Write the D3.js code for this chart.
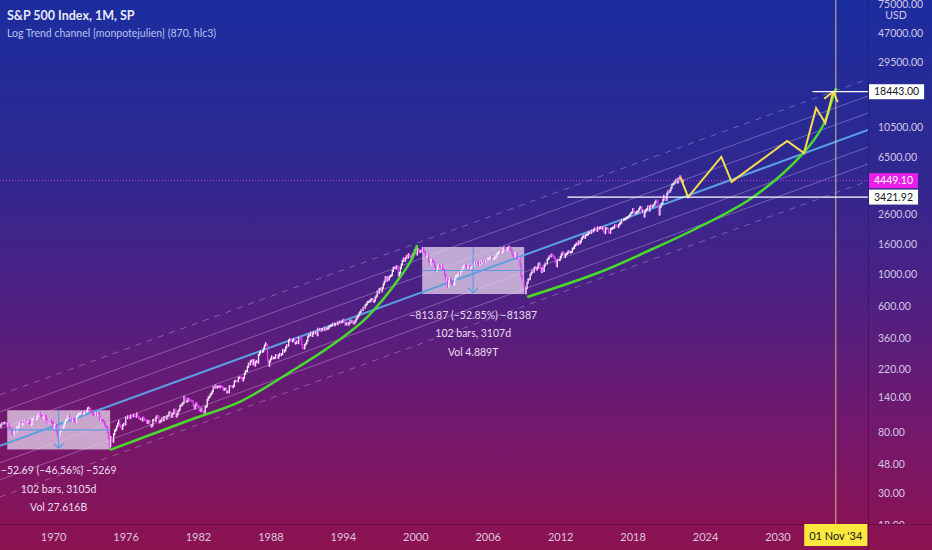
<!DOCTYPE html>
<html>
<head>
<meta charset="utf-8">
<script src="https://cdn.jsdelivr.net/npm/d3@7"></script>
<style>
body { margin: 0; background: #1a2c9e; }
svg { display: block; font-family: Lato, "Open Sans", sans-serif; }
</style>
</head>
<body>
<svg id="chart" width="932" height="550"></svg>
<script>

// monthly closes of the S&P 500, first bar = Aug 1965
var firstBar = 1965 + 7 / 12;
var spxCloses = [
  87.17, 89.96, 92.42, 91.61, 92.43,
  92.88, 91.22, 89.23, 91.06, 86.13, 84.74, 83.60, 77.10, 76.56, 80.20, 80.45, 80.33,
  86.61, 86.78, 90.20, 94.01, 89.08, 90.64, 94.75, 93.64, 96.71, 93.90, 94.00, 96.47,
  92.24, 89.36, 90.20, 97.59, 98.68, 99.58, 97.74, 98.86, 102.67, 103.41, 108.37, 103.86,
  103.01, 98.13, 101.51, 103.69, 103.46, 97.71, 91.83, 95.51, 93.12, 97.24, 93.81, 92.06,
  85.02, 89.50, 89.63, 81.52, 76.55, 72.72, 78.05, 81.52, 84.21, 83.25, 87.20, 92.15,
  95.88, 96.75, 100.31, 103.95, 99.63, 99.70, 95.58, 99.03, 98.34, 94.23, 93.99, 102.09,
  103.94, 106.57, 107.20, 107.67, 109.53, 107.14, 107.39, 111.09, 110.55, 111.58, 116.67, 118.05,
  116.03, 111.68, 111.52, 106.97, 104.95, 104.26, 108.22, 104.25, 108.43, 108.29, 95.96, 97.55,
  96.57, 96.22, 93.98, 90.31, 87.28, 86.00, 79.31, 72.15, 63.54, 73.90, 69.97, 68.56,
  76.98, 81.59, 83.36, 87.30, 91.15, 95.19, 88.75, 86.88, 83.87, 89.04, 91.24, 90.19,
  100.86, 99.71, 102.77, 101.64, 100.18, 104.28, 103.44, 102.91, 105.24, 102.90, 102.10, 107.46,
  102.03, 99.82, 98.42, 98.44, 96.12, 100.48, 98.85, 96.77, 96.53, 92.34, 94.83, 95.10,
  89.25, 87.04, 89.21, 96.83, 97.24, 95.53, 100.68, 103.29, 102.54, 93.15, 94.70, 96.11,
  99.93, 96.28, 101.59, 101.76, 99.08, 102.91, 103.81, 109.32, 109.32, 101.82, 106.16, 107.94,
  114.16, 113.66, 102.09, 106.29, 111.24, 114.24, 121.67, 122.38, 125.46, 127.47, 140.52, 135.76,
  129.55, 131.27, 136.00, 132.81, 132.59, 131.21, 130.92, 122.79, 116.18, 121.89, 126.35, 122.55,
  120.40, 113.11, 111.96, 116.44, 111.88, 109.61, 107.09, 119.51, 120.42, 133.71, 138.54, 140.64,
  145.30, 148.06, 152.96, 164.42, 162.39, 168.11, 162.56, 164.40, 166.07, 163.55, 166.40, 164.93,
  163.41, 157.06, 159.18, 160.05, 150.55, 153.18, 150.66, 166.68, 166.10, 166.09, 163.58, 167.24,
  179.63, 181.18, 180.66, 179.83, 189.55, 191.85, 190.92, 188.63, 182.08, 189.82, 202.17, 211.28,
  211.78, 226.92, 238.90, 235.52, 247.35, 250.84, 236.12, 252.93, 231.32, 243.98, 249.22, 242.17,
  274.08, 284.20, 291.70, 288.36, 290.10, 304.00, 318.66, 329.80, 321.83, 251.79, 230.30, 247.08,
  257.07, 267.82, 258.89, 261.33, 262.16, 273.50, 272.02, 261.52, 271.91, 278.97, 273.70, 277.72,
  297.47, 288.86, 294.87, 309.64, 320.52, 317.98, 346.08, 351.45, 349.15, 340.36, 345.99, 353.40,
  329.08, 331.89, 339.94, 330.80, 361.23, 358.02, 356.15, 322.56, 306.05, 304.00, 322.22, 330.22,
  343.93, 367.07, 375.22, 375.35, 389.83, 371.16, 387.81, 395.43, 387.86, 392.46, 375.22, 417.09,
  408.79, 412.70, 403.69, 414.95, 415.35, 408.14, 424.21, 414.03, 417.80, 418.68, 431.35, 435.71,
  438.78, 443.38, 451.67, 440.19, 450.19, 450.53, 448.13, 463.56, 458.93, 467.83, 461.79, 466.45,
  481.61, 467.14, 445.77, 450.91, 456.50, 444.27, 458.26, 475.49, 462.69, 472.35, 453.69, 459.27,
  470.42, 487.39, 500.71, 514.71, 533.40, 544.75, 562.06, 561.88, 584.41, 581.50, 605.37, 615.93,
  636.02, 640.43, 645.50, 654.17, 669.12, 670.63, 639.95, 651.99, 687.33, 705.27, 757.02, 740.74,
  786.16, 790.82, 757.12, 801.34, 848.28, 885.14, 954.29, 899.47, 947.28, 914.62, 955.40, 970.43,
  980.28, 1049.34, 1101.75, 1111.75, 1090.82, 1133.84, 1120.67, 957.28, 1017.01, 1098.67, 1163.63, 1229.23,
  1279.64, 1238.33, 1286.37, 1335.18, 1301.84, 1372.71, 1328.72, 1320.41, 1282.71, 1362.93, 1388.91, 1469.25,
  1394.46, 1366.42, 1498.58, 1452.43, 1420.60, 1454.60, 1430.83, 1517.68, 1436.51, 1429.40, 1314.95, 1320.28,
  1366.01, 1239.94, 1160.33, 1249.46, 1255.82, 1224.42, 1211.23, 1133.58, 1040.94, 1059.78, 1139.45, 1148.08,
  1130.20, 1106.73, 1147.39, 1076.92, 1067.14, 989.82, 911.62, 916.07, 815.28, 885.76, 936.31, 879.82,
  855.70, 841.15, 848.18, 916.92, 963.59, 974.50, 990.31, 1008.01, 995.97, 1050.71, 1058.20, 1111.92,
  1131.13, 1144.94, 1126.21, 1107.30, 1120.68, 1140.84, 1101.72, 1104.24, 1114.58, 1130.20, 1173.82, 1211.92,
  1181.27, 1203.60, 1180.59, 1156.85, 1191.50, 1191.33, 1234.18, 1220.33, 1228.81, 1207.01, 1249.48, 1248.29,
  1280.08, 1280.66, 1294.83, 1310.61, 1270.09, 1270.20, 1276.66, 1303.82, 1335.85, 1377.94, 1400.63, 1418.30,
  1438.24, 1406.82, 1420.86, 1482.37, 1530.62, 1503.35, 1455.27, 1473.99, 1526.75, 1549.38, 1481.14, 1468.36,
  1378.55, 1330.63, 1322.70, 1385.59, 1400.38, 1280.00, 1267.38, 1282.83, 1166.36, 968.75, 896.24, 903.25,
  825.88, 735.09, 797.87, 872.81, 919.14, 919.32, 987.48, 1020.62, 1057.08, 1036.19, 1095.63, 1115.10,
  1073.87, 1104.49, 1169.43, 1186.69, 1089.41, 1030.71, 1101.60, 1049.33, 1141.20, 1183.26, 1180.55, 1257.64,
  1286.12, 1327.22, 1325.83, 1363.61, 1345.20, 1320.64, 1292.28, 1218.89, 1131.42, 1253.30, 1246.96, 1257.60,
  1312.41, 1365.68, 1408.47, 1397.91, 1310.33, 1362.16, 1379.32, 1406.58, 1440.67, 1412.16, 1416.18, 1426.19,
  1498.11, 1514.68, 1569.19, 1597.57, 1630.74, 1606.28, 1685.73, 1632.97, 1681.55, 1756.54, 1805.81, 1848.36,
  1782.59, 1859.45, 1872.34, 1883.95, 1923.57, 1960.23, 1930.67, 2003.37, 1972.29, 2018.05, 2067.56, 2058.90,
  1994.99, 2104.50, 2067.89, 2085.51, 2107.39, 2063.11, 2103.84, 1972.18, 1920.03, 2079.36, 2080.41, 2043.94,
  1940.24, 1932.23, 2059.74, 2065.30, 2096.95, 2098.86, 2173.60, 2170.95, 2168.27, 2126.15, 2198.81, 2238.83,
  2278.87, 2363.64, 2362.72, 2384.20, 2411.80, 2423.41, 2470.30, 2471.65, 2519.36, 2575.26, 2647.58, 2673.61,
  2823.81, 2713.83, 2640.87, 2648.05, 2705.27, 2718.37, 2816.29, 2901.52, 2913.98, 2711.74, 2760.17, 2506.85,
  2704.10, 2784.49, 2834.40, 2945.83, 2752.06, 2941.76, 2980.38, 2926.46, 2976.74, 3037.56, 3140.98, 3230.78,
  3225.52, 2954.22, 2584.59, 2912.43, 3044.31, 3100.29, 3271.12, 3500.31, 3363.00, 3269.96, 3621.63, 3756.07,
  3714.24, 3811.15, 3972.89, 4181.17, 4204.11, 4297.50, 4395.26, 4522.68, 4307.54, 4605.38, 4567.00, 4766.18,
  4515.55, 4373.94, 4449.10
];
var lastPrice = 4449.10;

// log regression + channel (in decades)
var trendYears = [1965.6, 2037.5];
var trendValues = [64.1, 10000];
var channelSigmas = [-3, -2, -1, 1, 2, 3];
var sigmaLog = 0.118;

// green curves
var green1Years = [1974.72, 1981.5, 1985.5, 1989.9, 1993.2, 1996.0, 1998.75, 1999.8, 2000.15];
var green1Values = [60, 98, 130, 215, 325, 500, 953, 1313, 1589];
var green2Years = [2009.27, 2015.32, 2019.46, 2023.02, 2028.0, 2032.14, 2033.8, 2034.6, 2034.87];
var green2Values = [692, 1032, 1468, 2021, 3428, 6918, 10840, 16950, 19580];

// yellow projection
var pathYears = [2021.95, 2022.6, 2025.35, 2026.2, 2030.8, 2032.2, 2033.2, 2033.96, 2034.62];
var pathValues = [4720, 3422, 6500, 4360, 8400, 6920, 14200, 11200, 18443];

// horizontal levels
var levelValues = [18443, 3421.92];
var levelStarts = [2032.9, 2012.6];
var markerYear = 2034 + 10 / 12;
var markerLabel = "01 Nov '34";

// date/price range boxes
var rangeStarts = [1966.2, 2000.57];
var rangeEnds = [1974.72, 2009.02];
var rangeTops = [113.16, 1539.96];
var rangeBottoms = [60.47, 726.09];
var rangeTexts = [
  ["\u221252.69 (\u221246.56%) \u22125269", "102 bars, 3105d", "Vol 27.616B"],
  ["\u2212813.87 (\u221252.85%) \u221281387", "102 bars, 3107d", "Vol 4.889T"]
];

var xTickYears = [1970, 1976, 1982, 1988, 1994, 2000, 2006, 2012, 2018, 2024, 2030];
var yTickValues = [75000, 47000, 29500, 10500, 6500, 2600, 1600, 1000, 600, 360, 220, 140, 80, 48, 30, 18];

var W = 932, H = 550, plotW = 868, plotH = 524;
var svg = d3.select("#chart");

var x = d3.scaleLinear().domain([1965.6, 2037.5]).range([0, plotW]);
var y = d3.scaleLog().domain([18.36, 79940]).range([plotH, 0]);

// background
var defs = svg.append("defs");
var grad = defs.append("linearGradient").attr("id", "bg")
  .attr("x1", 0).attr("y1", 0).attr("x2", 0).attr("y2", 1);
[["0", "#1b2d9f"], ["0.3", "#2f2890"], ["0.55", "#4f2082"], ["0.8", "#76176a"], ["1", "#8d1250"]]
  .forEach(function(s) { grad.append("stop").attr("offset", s[0]).attr("stop-color", s[1]); });
svg.append("rect").attr("width", W).attr("height", H).attr("fill", "url(#bg)");

defs.append("clipPath").attr("id", "plotClip")
  .append("rect").attr("width", plotW).attr("height", plotH);
defs.append("clipPath").attr("id", "axisClip")
  .append("rect").attr("x", plotW).attr("width", W - plotW).attr("height", plotH);

defs.append("marker").attr("id", "arrowY")
  .attr("viewBox", "-12 -10 14 20").attr("refX", 0).attr("refY", 0)
  .attr("markerWidth", 14).attr("markerHeight", 20).attr("markerUnits", "userSpaceOnUse")
  .attr("orient", "auto")
  .append("path").attr("d", "M-9,-7L0,0L-9,7")
  .attr("fill", "none").attr("stroke", "#f6dc4c").attr("stroke-width", 2);

var plot = svg.append("g").attr("clip-path", "url(#plotClip)");

// channel lines
var trendLog = trendValues.map(function(v) { return Math.log10(v); });
channelSigmas.forEach(function(s) {
  plot.append("line")
    .attr("x1", x(trendYears[0])).attr("y1", y(Math.pow(10, trendLog[0] + s * sigmaLog)))
    .attr("x2", x(trendYears[1])).attr("y2", y(Math.pow(10, trendLog[1] + s * sigmaLog)))
    .attr("stroke", "rgba(225,205,245,0.35)")
    .attr("stroke-width", 1)
    .attr("stroke-dasharray", Math.abs(s) == 3 ? "6,6" : null);
});

// last price dotted line
plot.append("line")
  .attr("x1", 0).attr("x2", plotW)
  .attr("y1", y(lastPrice)).attr("y2", y(lastPrice))
  .attr("stroke", "#c83ce6").attr("stroke-width", 1).attr("stroke-dasharray", "1,2");

// range boxes
rangeStarts.forEach(function(s, i) {
  var x0 = x(s), x1 = x(rangeEnds[i]), y0 = y(rangeTops[i]), y1 = y(rangeBottoms[i]);
  plot.append("rect").attr("x", x0).attr("y", y0).attr("width", x1 - x0).attr("height", y1 - y0)
    .attr("fill", "rgba(232,214,238,0.75)");
});

// trend line
plot.append("line")
  .attr("x1", x(trendYears[0])).attr("y1", y(trendValues[0]))
  .attr("x2", x(trendYears[1])).attr("y2", y(trendValues[1]))
  .attr("stroke", "#5b9ee2").attr("stroke-width", 2);

// candles (open = previous close)
var barW = x(firstBar + 1 / 12) - x(firstBar);
plot.selectAll("rect.bar")
  .data(spxCloses)
  .enter()
  .append("rect")
  .attr("class", "bar")
  .attr("x", function(d, i) { return x(firstBar + i / 12) - barW / 2; })
  .attr("width", barW + 0.3)
  .attr("y", function(d, i) {
    var o = i ? spxCloses[i - 1] : d;
    return Math.min(y(o), y(d)) - 1;
  })
  .attr("height", function(d, i) {
    var o = i ? spxCloses[i - 1] : d;
    return Math.max(2, Math.abs(y(o) - y(d)) + 2);
  })
  .attr("fill", function(d, i) {
    var o = i ? spxCloses[i - 1] : d;
    return d >= o ? "#f6eaf8" : "#e23cf2";
  });

// box mid lines + arrow + labels
rangeStarts.forEach(function(s, i) {
  var x0 = x(s), x1 = x(rangeEnds[i]), y0 = y(rangeTops[i]), y1 = y(rangeBottoms[i]);
  var xm = (x0 + x1) / 2, ym = (y0 + y1) / 2;
  plot.append("line").attr("x1", x0).attr("x2", x1).attr("y1", ym).attr("y2", ym)
    .attr("stroke", "#5b9ee2").attr("stroke-width", 1.2);
  plot.append("line").attr("x1", xm).attr("x2", xm).attr("y1", y0).attr("y2", y1 - 1)
    .attr("stroke", "#5b9ee2").attr("stroke-width", 1.2);
  plot.append("path").attr("d", "M" + (xm - 5) + "," + (y1 - 6) + "L" + xm + "," + (y1 - 1) + "L" + (xm + 5) + "," + (y1 - 6))
    .attr("fill", "none").attr("stroke", "#5b9ee2").attr("stroke-width", 1.2);
  rangeTexts[i].forEach(function(t, j) {
    svg.append("text").attr("x", xm).attr("y", y1 + 21 + j * 18.5).attr("dy", "0.35em")
      .attr("text-anchor", "middle").attr("font-size", 10.5).attr("fill", "#eadcef").text(t);
  });
});

// green curves
var curveLine = d3.line()
  .x(function(d) { return x(d[0]); })
  .y(function(d) { return y(d[1]); })
  .curve(d3.curveCatmullRom);
[[green1Years, green1Values], [green2Years, green2Values]].forEach(function(c) {
  plot.append("path").datum(d3.zip(c[0], c[1])).attr("d", curveLine)
    .attr("fill", "none").attr("stroke", "#47dc2c").attr("stroke-width", 2.5);
});

// yellow projection
var polyLine = d3.line()
  .x(function(d) { return x(d[0]); })
  .y(function(d) { return y(d[1]); });
plot.append("path").datum(d3.zip(pathYears, pathValues)).attr("d", polyLine)
  .attr("fill", "none").attr("stroke", "#f6dc4c").attr("stroke-width", 2)
  .attr("stroke-linejoin", "miter").attr("marker-end", "url(#arrowY)");

// horizontal levels
levelValues.forEach(function(v, i) {
  plot.append("line").attr("x1", x(levelStarts[i])).attr("x2", plotW)
    .attr("y1", y(v)).attr("y2", y(v)).attr("stroke", "#ffffff").attr("stroke-width", 1.3);
});

// vertical date marker
svg.append("line").attr("x1", x(markerYear)).attr("x2", x(markerYear))
  .attr("y1", 0).attr("y2", plotH)
  .attr("stroke", "#f3e88a").attr("stroke-opacity", 0.8).attr("stroke-width", 1);

// separators
svg.append("line").attr("x1", 0).attr("x2", W).attr("y1", plotH + 0.5).attr("y2", plotH + 0.5)
  .attr("stroke", "rgba(0,0,0,0.22)");
svg.append("line").attr("x1", plotW + 0.5).attr("x2", plotW + 0.5).attr("y1", 0).attr("y2", H)
  .attr("stroke", "rgba(0,0,0,0.22)");

// axes
var yAxis = svg.append("g").attr("clip-path", "url(#axisClip)")
  .append("g").attr("transform", "translate(" + plotW + ",0)")
  .call(d3.axisRight(y).tickValues(yTickValues).tickFormat(d3.format(".2f")).tickSize(0).tickPadding(10));
yAxis.select(".domain").remove();
yAxis.selectAll("text").attr("fill", "#d2c6e6").attr("font-size", 10.5).attr("font-family", "Lato, sans-serif");

svg.append("text").attr("x", 896).attr("y", 15.5).attr("dy", "0.35em").attr("text-anchor", "middle")
  .attr("font-size", 10.5).attr("fill", "#d2c6e6").text("USD");

var xAxis = svg.append("g").attr("transform", "translate(0," + plotH + ")")
  .call(d3.axisBottom(x).tickValues(xTickYears).tickFormat(d3.format("d")).tickSize(0).tickPadding(9));
xAxis.select(".domain").remove();
xAxis.selectAll("text").attr("fill", "#dcc6dc").attr("font-size", 11).attr("font-family", "Lato, sans-serif");

// price tags
function priceTag(v, bg, fg) {
  var g = svg.append("g");
  var t = g.append("text").attr("x", plotW + 6).attr("y", y(v)).attr("dy", "0.35em")
    .attr("font-size", 10.5).attr("fill", fg).text(d3.format(".2f")(v));
  var w = t.node().getComputedTextLength();
  g.insert("rect", "text").attr("x", plotW + 1).attr("y", y(v) - 7.5)
    .attr("width", w + 10).attr("height", 15).attr("fill", bg);
}
priceTag(levelValues[0], "#ffffff", "#131722");
priceTag(lastPrice, "#e81ee8", "#ffffff");
priceTag(levelValues[1], "#ffffff", "#131722");

// date tag
var dateG = svg.append("g");
var dt = dateG.append("text").attr("x", x(markerYear)).attr("y", plotH + 12).attr("dy", "0.35em")
  .attr("text-anchor", "middle").attr("font-size", 11).attr("fill", "#131722").text(markerLabel);
var dw = dt.node().getComputedTextLength();
dateG.insert("rect", "text").attr("x", x(markerYear) - dw / 2 - 5).attr("y", plotH)
  .attr("width", dw + 10).attr("height", 22).attr("fill", "#fbe83c");

// titles
svg.append("text").attr("x", 7).attr("y", 16).attr("dy", "0.35em")
  .attr("font-size", 12.5).attr("font-weight", "bold").attr("fill", "#e6e8f6")
  .text("S&P 500 Index, 1M, SP");
svg.append("text").attr("x", 7).attr("y", 33).attr("dy", "0.35em")
  .attr("font-size", 10.5).attr("fill", "#b8c2ee")
  .text("Log Trend channel [monpotejulien] (870, hlc3)");

</script>
</body>
</html>
